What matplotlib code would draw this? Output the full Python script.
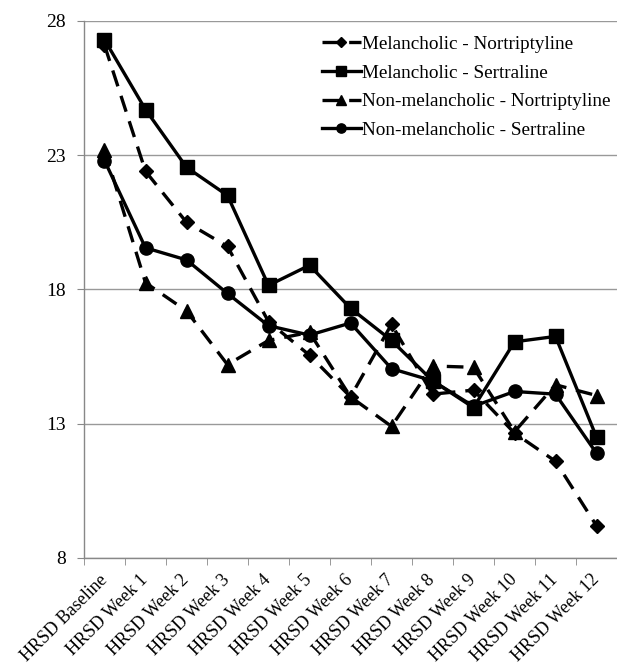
import numpy as np
import matplotlib
matplotlib.use("Agg")
import matplotlib.pyplot as plt

# ---------- DATA ----------
weeks = ["HRSD Baseline"] + [f"HRSD Week {i}" for i in range(1, 13)]

mel_nort = [27.1, 22.4, 20.5, 19.6, 16.8, 15.55, 14.0, 16.7, 14.1, 14.25, 12.65, 11.6, 9.2]
mel_sert = [27.3, 24.7, 22.55, 21.5, 18.15, 18.9, 17.3, 16.1, 14.6, 13.6, 16.05, 16.25, 12.5]
non_nort = [23.2, 18.25, 17.2, 15.2, 16.1, 16.4, 14.0, 12.9, 15.15, 15.1, 12.7, 14.45, 14.05]
non_sert = [22.8, 19.55, 19.1, 17.85, 16.65, 16.3, 16.75, 15.05, 14.6, 13.65, 14.2, 14.1, 11.9]

series = [
    ("Melancholic - Nortriptyline", mel_nort, "D", (0, (5, 3))),
    ("Melancholic - Sertraline", mel_sert, "s", "-"),
    ("Non-melancholic - Nortriptyline", non_nort, "^", (0, (5, 3))),
    ("Non-melancholic - Sertraline", non_sert, "o", "-"),
]

plt.rcParams["font.family"] = ["Liberation Serif", "DejaVu Serif"]

# ---------- FIGURE ----------
fig = plt.figure(figsize=(6.17, 6.69), dpi=100)
ax = fig.add_axes([84 / 617, 0.166, 533 / 617, 0.8027])

x = np.arange(len(weeks))
for label, vals, marker, ls in series:
    ms = 7.5 if marker == "D" else 9.5
    ax.plot(x, vals, color="black", linestyle=ls, linewidth=2.4,
            marker=marker, markersize=ms, label=label)

ax.set_ylim(8, 28)
ax.set_yticks([8, 13, 18, 23, 28])
ax.set_xlim(-0.5, -0.5 + 533 / 41.2)

ax.set_xticks(x)
ax.set_xticklabels(weeks, rotation=45, ha="right", va="center",
                   rotation_mode="anchor", fontsize=13)
ax.set_xticks(np.arange(-0.5, 13, 1), minor=True)
ax.tick_params(axis="x", which="major", length=0, pad=14)
ax.tick_params(axis="x", which="minor", length=5, color="#888888", direction="out")
ax.tick_params(axis="y", length=5, color="#888888", labelsize=14, pad=8)

ax.grid(axis="y", color="#999999", linewidth=1)
ax.set_axisbelow(True)
for s in ["top", "right"]:
    ax.spines[s].set_visible(False)
for s in ["left", "bottom"]:
    ax.spines[s].set_color("#888888")
    ax.spines[s].set_linewidth(1)

leg = ax.legend(loc="upper right", bbox_to_anchor=(1.021, 1.005), frameon=False,
                fontsize=13.8, handlelength=2.0, handletextpad=0.1,
                labelspacing=0.59, markerscale=0.7)

fig.savefig("out.png", dpi=100)
